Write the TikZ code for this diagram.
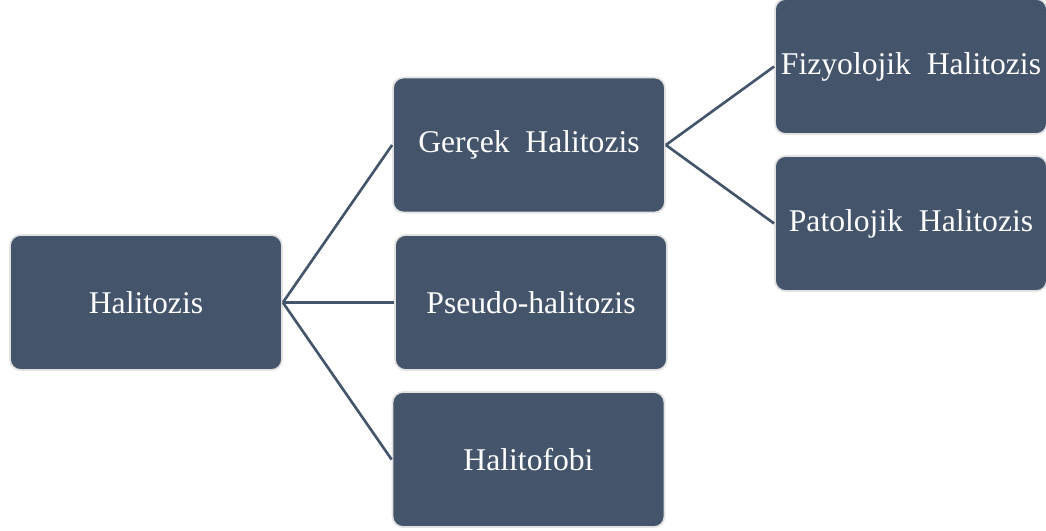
\documentclass[tikz,border=0pt]{standalone}
\usepackage{fontspec}
\setmainfont{Liberation Serif}
\definecolor{slate}{HTML}{44546A}
\definecolor{rim}{HTML}{E2E2E2}
\tikzset{box/.style={draw=rim, line width=1pt, fill=slate, rounded corners=6pt,
   text=white, inner sep=2pt, minimum width=5.44cm, minimum height=2.7cm,
   font=\fontsize{18}{21}\selectfont},
 link/.style={draw=slate, line width=1.5pt},
 }

\begin{document}
\begin{tikzpicture}
    \useasboundingbox (0,0) rectangle (20.92,-10.62);
    % root and first level
    \node[box] (hal) at (2.92,-6.05) {Halitozis};
    \node[box] (gercek) at (10.58,-2.9) {Gerçek~~Halitozis};
    \node[box] (pseudo) at (10.62,-6.05) {Pseudo-halitozis};
    \node[box] (fobi) at (10.57,-9.19) {Halitofobi};
    % second level
    \node[box] (fiz) at (18.22,-1.33) {Fizyolojik~~Halitozis};
    \node[box] (pat) at (18.22,-4.47) {Patolojik~~Halitozis};
    \foreach \c in {gercek, pseudo, fobi} {
        \draw[link] (hal.east) -- (\c.west);
    }
    \foreach \c in {fiz, pat} {
        \draw[link] (gercek.east) -- (\c.west);
    }
\end{tikzpicture}
\end{document}
